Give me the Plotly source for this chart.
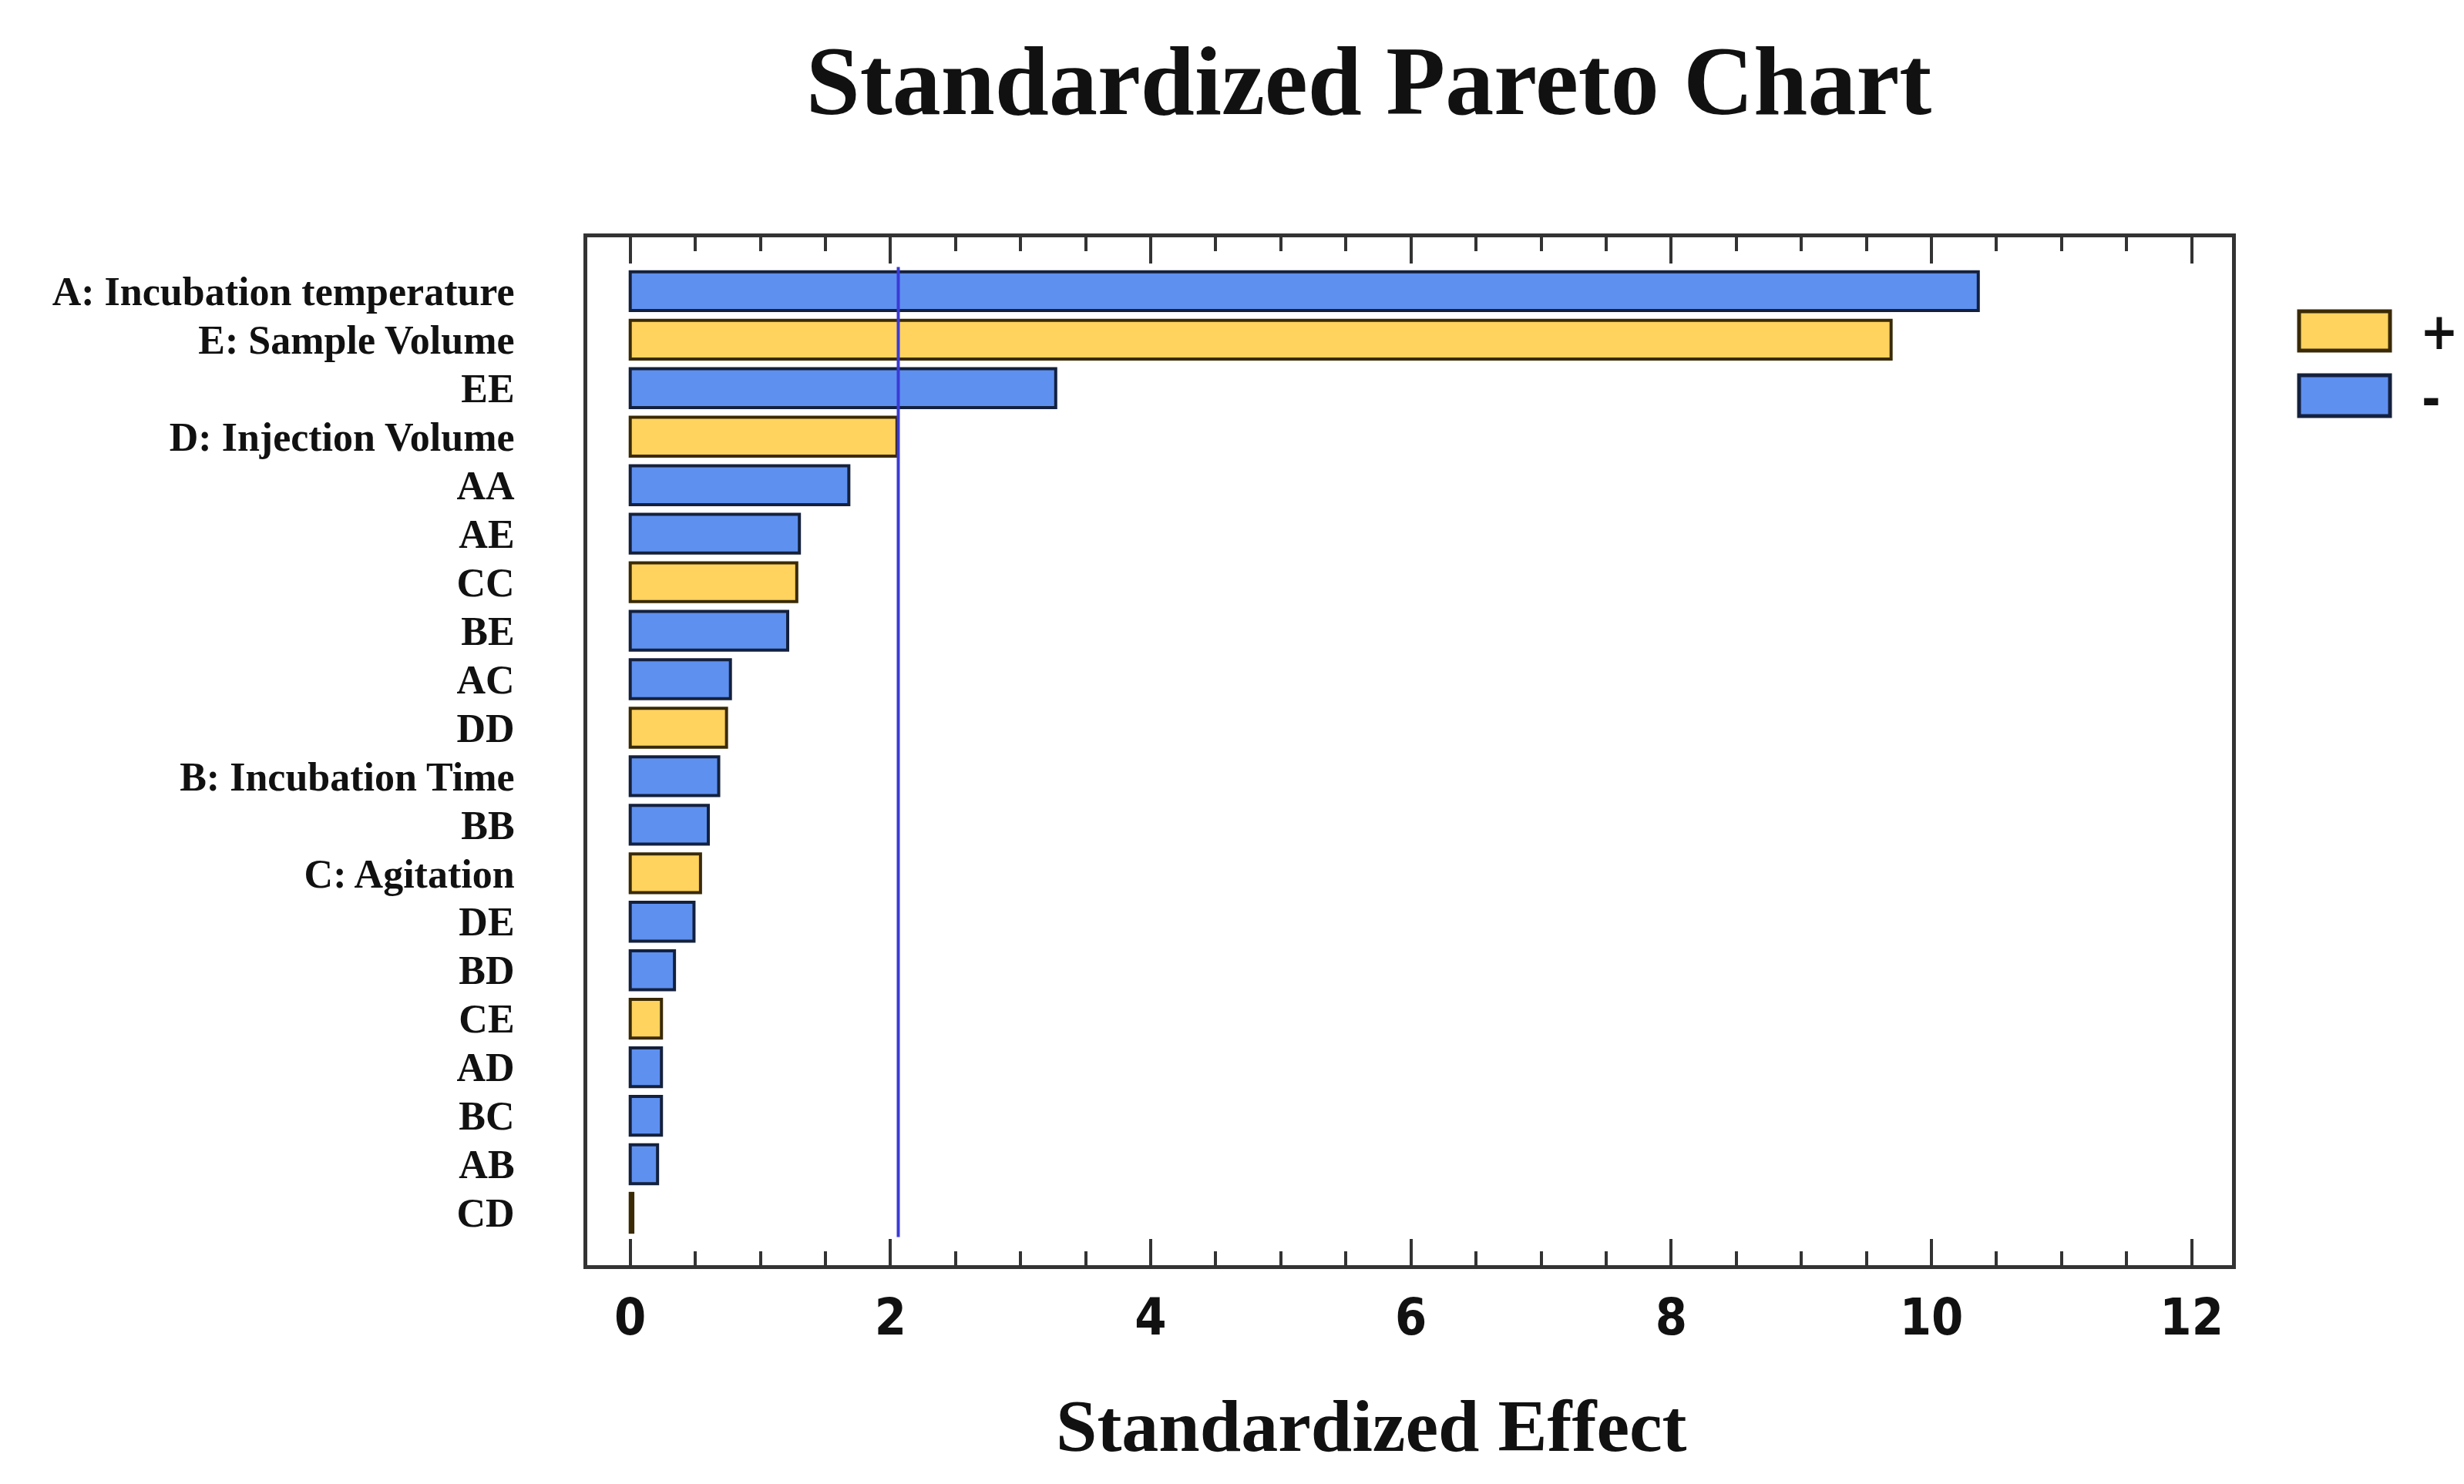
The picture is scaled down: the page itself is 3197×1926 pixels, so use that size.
import plotly.graph_objects as go

# ---- data ----
terms = ["A: Incubation temperature", "E: Sample Volume", "EE", "D: Injection Volume",
         "AA", "AE", "CC", "BE", "AC", "DD", "B: Incubation Time", "BB",
         "C: Agitation", "DE", "BD", "CE", "AD", "BC", "AB", "CD"]
effects = [10.36, 9.69, 3.27, 2.05, 1.68, 1.30, 1.28, 1.21, 0.77, 0.74,
           0.68, 0.60, 0.54, 0.49, 0.34, 0.24, 0.24, 0.24, 0.21, 0.02]
signs = ["-", "+", "-", "+", "-", "-", "+", "-", "-", "+",
         "-", "-", "+", "-", "-", "+", "-", "-", "-", "+"]
critical_value = 2.06
x_ticks = [0, 2, 4, 6, 8, 10, 12]

POS_FILL, POS_LINE = "#FFD35E", "#3a2a05"
NEG_FILL, NEG_LINE = "#5E90F0", "#14213d"

W, H = 3197, 1926
FR_L, FR_R, FR_T, FR_B = 754, 2888, 300, 1634
L, R, T, B = FR_L, W - FR_R, FR_T, H - FR_B
serif = "Liberation Serif, Times New Roman, DejaVu Serif, serif"
narrow = "DejaVu Sans Condensed, Liberation Sans Narrow, Arial Narrow, sans-serif"

fig = go.Figure()
fig.add_trace(go.Bar(
    y=terms, x=effects, orientation="h",
    marker=dict(color=[POS_FILL if s == "+" else NEG_FILL for s in signs],
                line=dict(color=[POS_LINE if s == "+" else NEG_LINE for s in signs], width=4)),
    width=0.8, showlegend=False, hoverinfo="x+y",
))

# critical value line
fig.add_shape(type="line", xref="x", yref="y", x0=critical_value, x1=critical_value,
              y0=-0.5, y1=19.5, line=dict(color="#3b3bd6", width=4))

# custom legend (boxes + signs)
pw = W - L - R
ph = H - T - B
def px(xp):
    return (xp - L) / pw
def py(yp):
    return (H - B - yp) / ph

fig.add_shape(type="rect", xref="paper", yref="paper",
              x0=px(2975), x1=px(3093), y0=py(447), y1=py(396),
              fillcolor=POS_FILL, line=dict(color=POS_LINE, width=5))
fig.add_shape(type="rect", xref="paper", yref="paper",
              x0=px(2975), x1=px(3093), y0=py(532), y1=py(479),
              fillcolor=NEG_FILL, line=dict(color=NEG_LINE, width=5))
fig.add_annotation(xref="paper", yref="paper", x=px(3130), y=py(422), text="+",
                   showarrow=False, xanchor="left", yanchor="middle",
                   font=dict(family=narrow, size=66, color="#111", weight="bold"))
fig.add_annotation(xref="paper", yref="paper", x=px(3132), y=py(510), text="-",
                   showarrow=False, xanchor="left", yanchor="middle",
                   font=dict(family=narrow, size=66, color="#111", weight="bold"))

# axis title
fig.add_annotation(xref="paper", yref="paper", x=px(1771), y=py(1842),
                   text="<b>Standardized Effect</b>", showarrow=False,
                   xanchor="center", yanchor="middle",
                   font=dict(family=serif, size=96, color="#111"))

fig.update_layout(
    width=W, height=H,
    margin=dict(l=L, r=R, t=T, b=B),
    paper_bgcolor="white", plot_bgcolor="white",
    title=dict(text="<b>Standardized Pareto Chart</b>", x=1768 / W, xanchor="center",
               y=1 - 96 / H, yanchor="middle",
               font=dict(family=serif, size=126, color="#111")),
    bargap=0.2,
)
fig.update_xaxes(
    range=[-0.33, 12.31], tickvals=x_ticks, ticktext=[str(v) for v in x_ticks],
    ticks="inside", ticklen=34, tickwidth=4, tickcolor="#333",
    minor=dict(dtick=0.5, ticks="inside", ticklen=18, tickwidth=4, tickcolor="#333", showgrid=False),
    showline=True, linewidth=5, linecolor="#333", mirror="ticks",
    showgrid=False, zeroline=False,
    tickfont=dict(family=narrow, size=66, color="#111", weight="bold"),
    ticklabelstandoff=6,
)
fig.update_yaxes(
    categoryorder="array", categoryarray=terms,
    tickmode="array", tickvals=terms, ticktext=terms,
    range=[20.08, -1.11],
    showline=True, linewidth=5, linecolor="#333", mirror=True,
    ticks="", showgrid=False, zeroline=False,
    tickfont=dict(family=serif, size=52, color="#111", weight="bold"),
    ticklabelstandoff=79,
)

fig.write_html("out.html")
